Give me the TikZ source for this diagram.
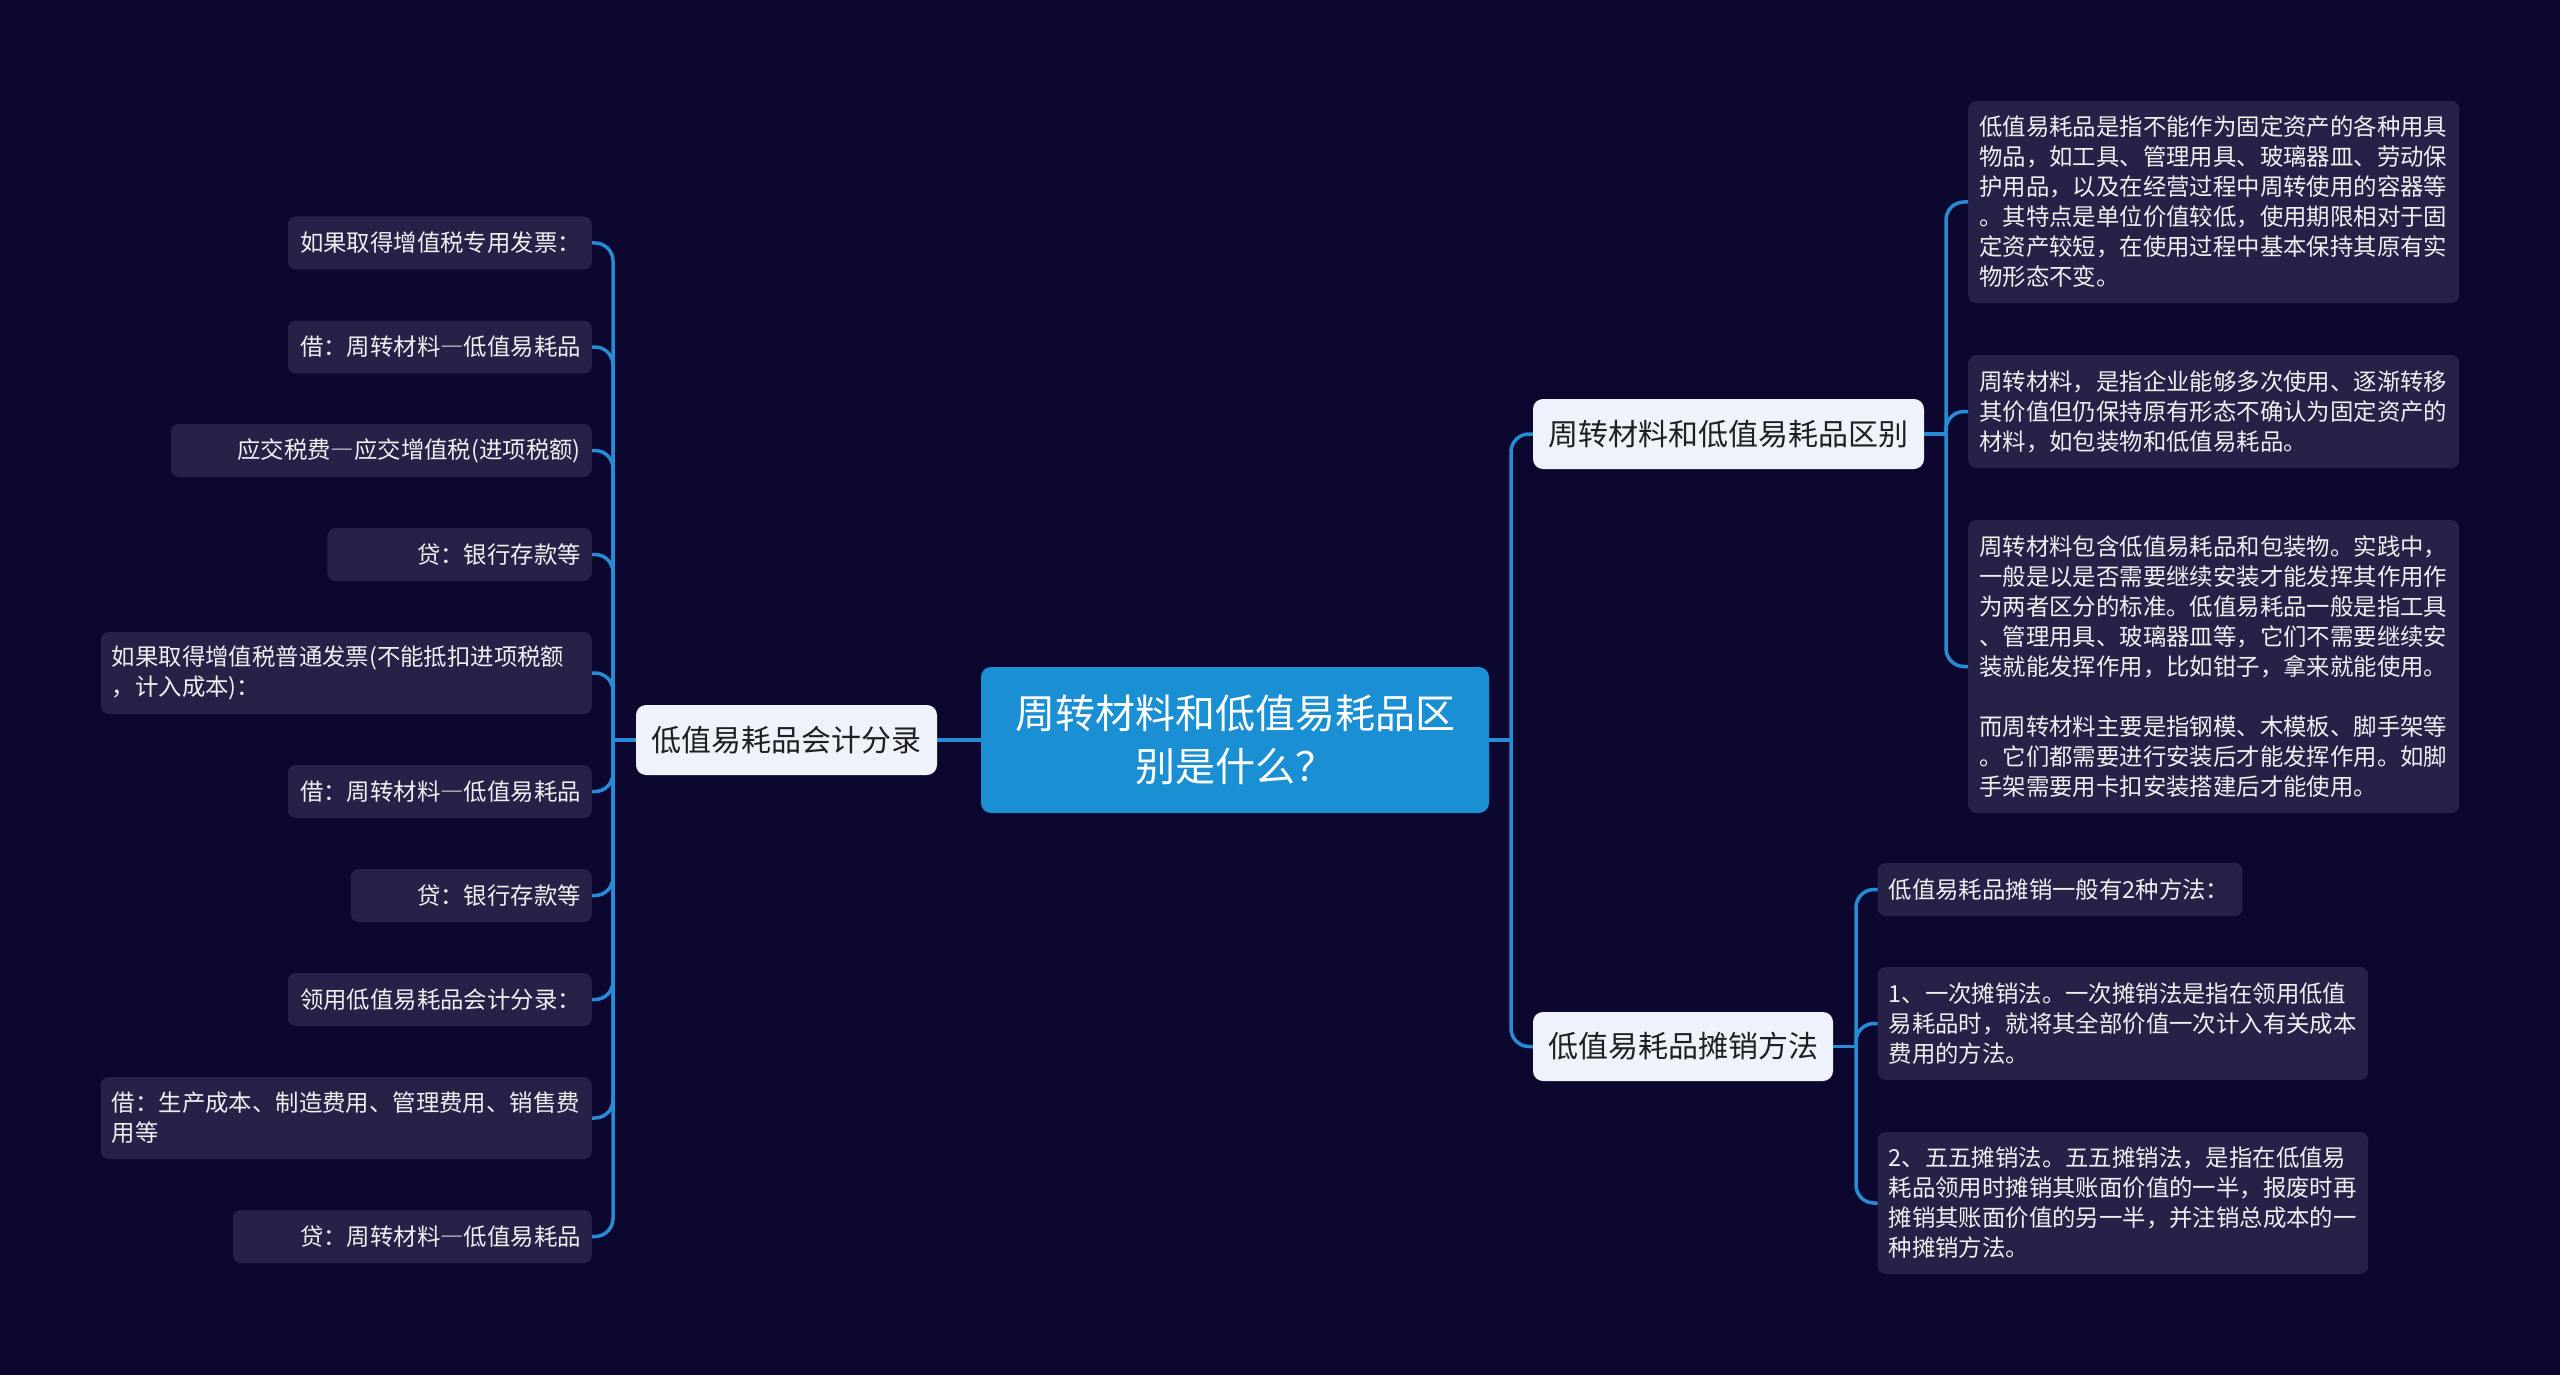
\documentclass[tikz,border=0pt]{standalone}
\usepackage{fontspec}
\setmainfont{Noto Sans CJK SC}
\usepackage{xcolor}
\usetikzlibrary{positioning}

\definecolor{bgnavy}{RGB}{11,7,46}
\definecolor{leaffill}{RGB}{37,33,71}
\definecolor{rootblue}{RGB}{27,143,212}
\definecolor{mainfill}{RGB}{238,243,251}
\definecolor{linkblue}{RGB}{38,140,214}

\tikzset{
  leafbox/.style={fill=leaffill, text=white!94!black, rounded corners=8pt,
    inner xsep=11pt, inner ysep=0pt, font=\fontsize{23.4}{30}\selectfont},
  mainbox/.style={fill=mainfill, text=black!88, rounded corners=10pt,
    inner xsep=0pt, inner ysep=0pt, minimum height=70pt,
    font=\fontsize{30}{36}\selectfont},
  rootbox/.style={fill=rootblue, text=white, rounded corners=10pt, align=center,
    inner sep=0pt, font=\fontsize{40}{53}\selectfont},
  link/.style={draw=linkblue, line width=3.5pt, rounded corners=18pt},
}

\begin{document}
\begin{tikzpicture}[x=1pt, y=-1pt]

    % background
    \fill[bgnavy] (0,0) rectangle (2560,1375);

    % root and main topics
    \node[rootbox, minimum width=508, minimum height=146] (root) at (1235,740)
        {周转材料和低值易耗品区\\别是什么？};
    \node[mainbox, minimum width=301] (acct) at (786.5,740) {低值易耗品会计分录};
    \node[mainbox, minimum width=391] (diff) at (1728.5,434) {周转材料和低值易耗品区别};
    \node[mainbox, minimum width=300, minimum height=69] (amort) at (1683,1046.5) {低值易耗品摊销方法};

    % left branch: accounting entries
    \node[leafbox, anchor=east, text width=282, align=right, minimum height=53] (l1) at (592,243) {如果取得增值税专用发票：};
    \node[leafbox, anchor=east, text width=282, align=right, minimum height=53] (l2) at (592,347) {借：周转材料―低值易耗品};
    \node[leafbox, anchor=east, text width=399, align=right, minimum height=53] (l3) at (592,450.5) {应交税费―应交增值税(进项税额)};
    \node[leafbox, anchor=east, text width=242.5, align=right, minimum height=53] (l4) at (592,554.5) {贷：银行存款等};
    \node[leafbox, anchor=east, text width=469, align=left, minimum height=82] (l5) at (592,673)
        {如果取得增值税普通发票(不能抵扣进项税额\\，计入成本)：};
    \node[leafbox, anchor=east, text width=282, align=right, minimum height=53] (l6) at (592,791.5) {借：周转材料―低值易耗品};
    \node[leafbox, anchor=east, text width=219, align=right, minimum height=53] (l7) at (592,895.5) {贷：银行存款等};
    \node[leafbox, anchor=east, text width=282, align=right, minimum height=53] (l8) at (592,999.5) {领用低值易耗品会计分录：};
    \node[leafbox, anchor=east, text width=469, align=left, minimum height=82] (l9) at (592,1118)
        {借：生产成本、制造费用、管理费用、销售费\\用等};
    \node[leafbox, anchor=east, text width=337, align=right, minimum height=53] (l10) at (592,1236.5) {贷：周转材料―低值易耗品};

    % right branch: differences
    \node[leafbox, anchor=west, text width=469, align=left, minimum height=202] (r1) at (1968,202)
        {低值易耗品是指不能作为固定资产的各种用具\\物品，如工具、管理用具、玻璃器皿、劳动保\\护用品，以及在经营过程中周转使用的容器等\\。其特点是单位价值较低，使用期限相对于固\\定资产较短，在使用过程中基本保持其原有实\\物形态不变。};
    \node[leafbox, anchor=west, text width=469, align=left, minimum height=113] (r2) at (1968,411.5)
        {周转材料，是指企业能够多次使用、逐渐转移\\其价值但仍保持原有形态不确认为固定资产的\\材料，如包装物和低值易耗品。};
    \node[leafbox, anchor=west, text width=469, align=left, minimum height=293] (r3) at (1968,666.5)
        {周转材料包含低值易耗品和包装物。实践中，\\一般是以是否需要继续安装才能发挥其作用作\\为两者区分的标准。低值易耗品一般是指工具\\、管理用具、玻璃器皿等，它们不需要继续安\\装就能发挥作用，比如钳子，拿来就能使用。\\[30pt]而周转材料主要是指钢模、木模板、脚手架等\\。它们都需要进行安装后才能发挥作用。如脚\\手架需要用卡扣安装搭建后才能使用。};

    % right branch: amortisation
    \node[leafbox, anchor=west, text width=343, align=left, minimum height=53] (m1) at (1877.5,889.5) {低值易耗品摊销一般有2种方法：};
    \node[leafbox, anchor=west, text width=468.5, align=left, minimum height=113] (m2) at (1877.5,1023.5)
        {1、一次摊销法。一次摊销法是指在领用低值\\易耗品时，就将其全部价值一次计入有关成本\\费用的方法。};
    \node[leafbox, anchor=west, text width=468.5, align=left, minimum height=142] (m3) at (1877.5,1203)
        {2、五五摊销法。五五摊销法，是指在低值易\\耗品领用时摊销其账面价值的一半，报废时再\\摊销其账面价值的另一半，并注销总成本的一\\种摊销方法。};

    % bus points
    \coordinate (accbus) at (613,740);
    \coordinate (rootbus) at (1511,740);
    \coordinate (diffbus) at (1946,434);
    \coordinate (amortbus) at (1856,1046.5);

    % connectors
    \draw[link] (root.west) -- (acct.east);
    \draw[link] (acct.west) -- (accbus);
    \foreach \i in {1,...,10}
        \draw[link] (accbus) |- (l\i.east);

    \draw[link] (root.east) -- (rootbus);
    \draw[link] (rootbus) |- (diff.west);
    \draw[link] (rootbus) |- (amort.west);

    \draw[link] (diff.east) -- (diffbus);
    \foreach \i in {1,2,3}
        \draw[link] (diffbus) |- (r\i.west);

    \draw[link] (amort.east) -- (amortbus);
    \foreach \i in {1,2,3}
        \draw[link] (amortbus) |- (m\i.west);

\end{tikzpicture}
\end{document}
